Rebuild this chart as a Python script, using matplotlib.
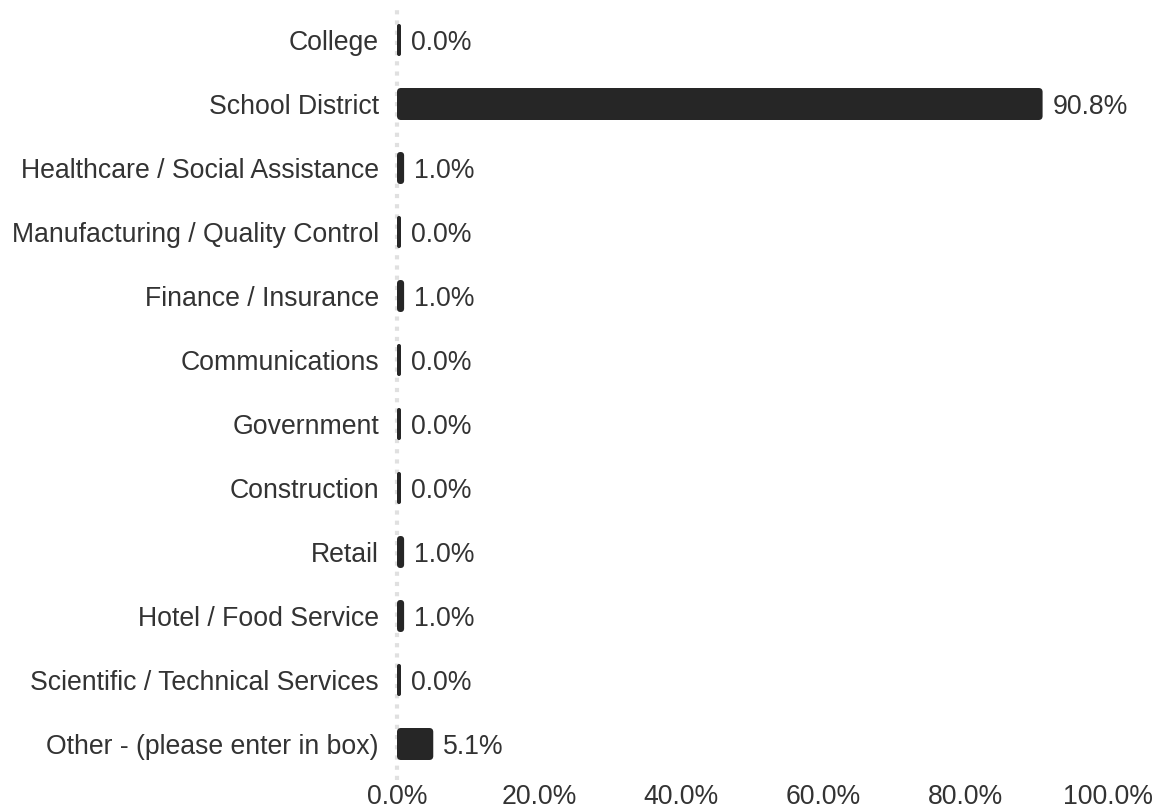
import matplotlib
matplotlib.use("Agg")
import matplotlib.pyplot as plt
from matplotlib.patches import FancyBboxPatch

categories = ["College", "School District", "Healthcare / Social Assistance",
              "Manufacturing / Quality Control", "Finance / Insurance", "Communications",
              "Government", "Construction", "Retail", "Hotel / Food Service",
              "Scientific / Technical Services", "Other - (please enter in box)"]
values = [0.0, 90.8, 1.0, 0.0, 1.0, 0.0, 0.0, 0.0, 1.0, 1.0, 0.0, 5.1]
xticks = [0, 20, 40, 60, 80, 100]
xtick_labels = ["0.0%", "20.0%", "40.0%", "60.0%", "80.0%", "100.0%"]

W, H, DPI = 1158, 809, 100
plt.rcParams['font.family'] = ['Liberation Sans', 'DejaVu Sans']
TXT = '#333333'
BAR = '#262626'
FS = 19.2

fig = plt.figure(figsize=(W / DPI, H / DPI), dpi=DPI)
left_px, right_px, top_px, bot_px = 397, 1108, 8, 776
ax = fig.add_axes([left_px / W, 1 - bot_px / H, (right_px - left_px) / W, (bot_px - top_px) / H])
n = len(categories)
ax.set_xlim(0, 100)
ax.set_ylim(n - 0.5, -0.5)

px_per_x = (right_px - left_px) / 100.0
px_per_y = (bot_px - top_px) / n
min_w = 4.0 / px_per_x
radius_px = 4.0
bar_h = 0.5

for i, v in enumerate(values):
    w = max(v, min_w)
    r = min(radius_px / px_per_x, w / 2)
    patch = FancyBboxPatch((0, i - bar_h / 2), w, bar_h,
                           boxstyle=f"round,pad=0,rounding_size={r}",
                           mutation_aspect=px_per_x / px_per_y,
                           facecolor=BAR, edgecolor='none', zorder=3)
    ax.add_patch(patch)
    ax.annotate(f"{v:.1f}%", xy=(w, i), xytext=(7, 0), textcoords='offset points',
                ha='left', va='center_baseline', fontsize=FS, color=TXT)

ax.axvline(0, color='#e0e0e0', lw=3, linestyle=(0, (1, 1.45)), zorder=1, clip_on=False,
           ymin=-0.005, ymax=1.004)

ax.set_yticks(range(n))
ax.set_yticklabels(categories, fontsize=FS, color=TXT)
ax.set_xticks(xticks)
ax.set_xticklabels(xtick_labels, fontsize=FS, color=TXT)
ax.tick_params(axis='y', length=0, pad=13)
ax.tick_params(axis='x', length=0, pad=6)
for s in ax.spines.values():
    s.set_visible(False)

fig.savefig("out.png", dpi=DPI)
